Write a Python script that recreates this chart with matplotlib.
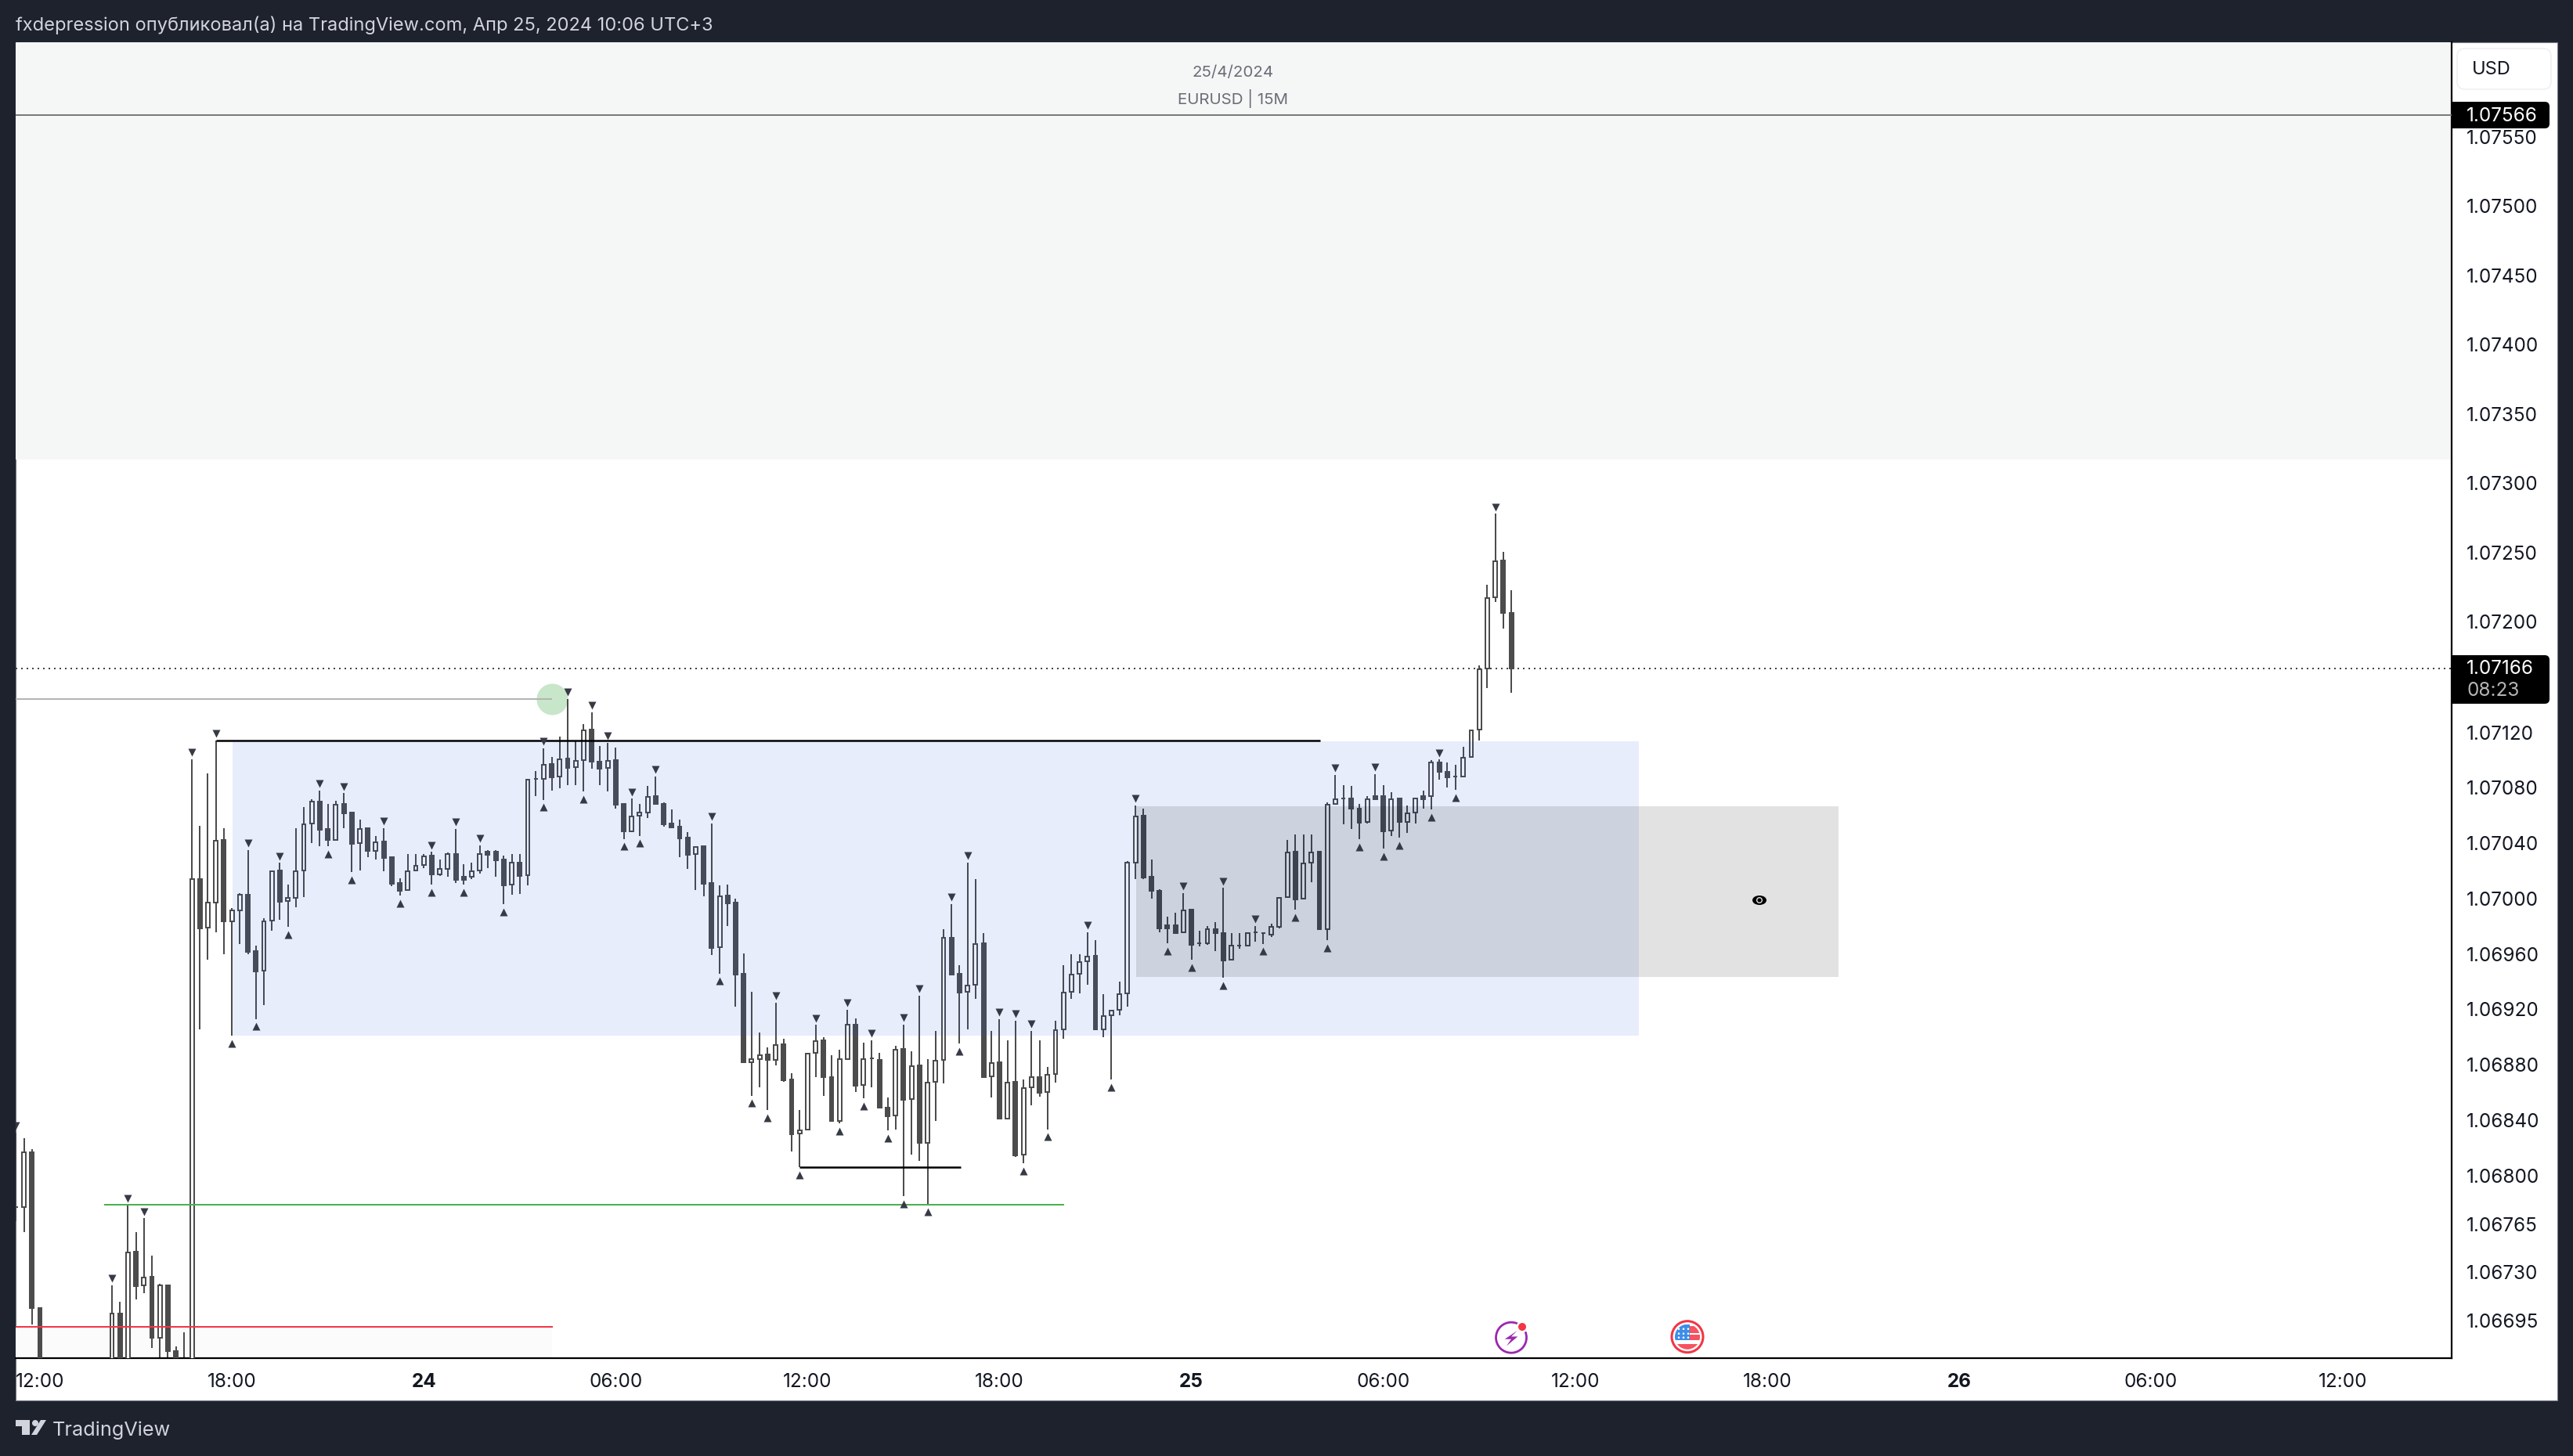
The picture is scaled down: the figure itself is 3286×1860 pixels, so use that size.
import matplotlib
matplotlib.use("Agg")
import numpy as np
from matplotlib import pyplot as plt
from matplotlib import transforms
from matplotlib.patches import Rectangle, Circle, Ellipse, Polygon, FancyBboxPatch

plt.rcParams['font.family'] = ['Inter', 'DejaVu Sans']

na = float('nan')

# EURUSD 15M, one entry per bar, bar 0 is 23 Apr 11:15. Hidden bars are below the pane.
opens = [1.06777, 1.06777, 1.06817, 1.06704, na, na, na, na, na, na, na, na,
    1.0664, 1.067006, 1.0662, 1.067447, 1.067204, 1.067267, 1.066826, 1.067204, 1.066733, 1.0664, 1.0664,
    1.070139, 1.069788, 1.069969, 1.070421, 1.069837, 1.069916, 1.070026, 1.069619, 1.069477, 1.069839,
    1.070201, 1.06998, 1.070007, 1.070201, 1.07054, 1.070698, 1.0705, 1.070425, 1.070681, 1.070619,
    1.070399, 1.070506, 1.070346, 1.07041, 1.070299, 1.07011, 1.07006, 1.070201, 1.07024, 1.070308,
    1.070176, 1.070216, 1.070321, 1.070156, 1.070156, 1.070201, 1.070336, 1.070336, 1.07028, 1.070099,
    1.070257, 1.070167, 1.070864, 1.070864, 1.07097, 1.070879, 1.071009, 1.070947, 1.071, 1.071218,
    1.07099, 1.070941, 1.070998, 1.070683, 1.070487, 1.070597, 1.070619, 1.07074, 1.070681, 1.070541,
    1.070517, 1.070439, 1.07032, 1.070378, 1.07011, 1.069647, 1.070022, 1.06997, 1.069455, 1.068817,
    1.068843, 1.068873, 1.068832, 1.068947, 1.068691, 1.068302, 1.06833, 1.068884, 1.068975, 1.068713,
    1.068393, 1.068843, 1.069091, 1.068652, 1.068847, 1.068832, 1.068492, 1.068432, 1.068912, 1.068551,
    1.068793, 1.068233, 1.068676, 1.068834, 1.069714, 1.069455, 1.069325, 1.069377, 1.069675, 1.068715,
    1.068815, 1.068412, 1.068674, 1.068148, 1.068635, 1.068713, 1.068603, 1.068732, 1.069053, 1.069325,
    1.069455, 1.069546, 1.069585, 1.069055, 1.069156, 1.069195, 1.069314, 1.070259, 1.070597, 1.070156,
    1.070058, 1.069805, 1.069805, 1.069755, 1.069918, 1.069675, 1.069675, 1.069777, 1.069753, 1.069556,
    1.069658, 1.069658, 1.069757, 1.06975, 1.06974, 1.069796, 1.07001, 1.070336, 1.069997, 1.070257,
    1.070336, 1.069779, 1.070684, 1.070723, 1.070721, 1.070647, 1.070552, 1.070738, 1.070738, 1.07049,
    1.070721, 1.070554, 1.07062, 1.070738, 1.070738, 1.070981, 1.070917, 1.070883, 1.07088, 1.071022,
    1.071221, 1.071662, 1.072177, 1.07244, 1.07206]
highs = [1.06831, 1.06827, 1.06819, 1.06704, na, na, na, na, na, na, na, na,
    1.067208, 1.067086, 1.067783, 1.06759, 1.06769, 1.06742, 1.067218, 1.067204, 1.066765, 1.066867, 1.071005,
    1.070525, 1.070902, 1.071141, 1.070506, 1.069931, 1.070041, 1.07035, 1.069658, 1.069856, 1.070201,
    1.070257, 1.070101, 1.070506, 1.070661, 1.070719, 1.070779, 1.070681, 1.070704, 1.07076, 1.070619,
    1.070568, 1.070506, 1.07045, 1.070508, 1.070299, 1.070148, 1.070321, 1.070321, 1.070321, 1.070336,
    1.07028, 1.070331, 1.070502, 1.070248, 1.070259, 1.070384, 1.07035, 1.07035, 1.070308, 1.070321,
    1.070321, 1.07086, 1.070921, 1.071084, 1.07102, 1.071169, 1.071439, 1.071137, 1.071258, 1.071344,
    1.0711, 1.071124, 1.07109, 1.070685, 1.07072, 1.070681, 1.070811, 1.07088, 1.070696, 1.070642,
    1.070569, 1.07048, 1.070378, 1.070378, 1.070541, 1.070097, 1.070099, 1.07, 1.069606, 1.069325,
    1.069035, 1.068923, 1.069247, 1.068988, 1.068741, 1.068471, 1.068882, 1.069087, 1.068998, 1.068869,
    1.068908, 1.069195, 1.069135, 1.068957, 1.068977, 1.068884, 1.068561, 1.068934, 1.069091, 1.068897,
    1.069299, 1.068843, 1.069044, 1.069779, 1.069961, 1.069518, 1.070259, 1.07014, 1.069751, 1.069042,
    1.069128, 1.068975, 1.069117, 1.068694, 1.069044, 1.068977, 1.068784, 1.069117, 1.069518, 1.069598,
    1.069598, 1.069755, 1.069697, 1.069308, 1.069195, 1.069399, 1.07027, 1.07067, 1.070649, 1.070281,
    1.070065, 1.06987, 1.069898, 1.070037, 1.069918, 1.069766, 1.069799, 1.069827, 1.070076, 1.069751,
    1.069751, 1.069758, 1.069801, 1.069752, 1.069816, 1.070005, 1.070422, 1.070463, 1.070463, 1.070463,
    1.070336, 1.070696, 1.070892, 1.070816, 1.070814, 1.070684, 1.070738, 1.0709, 1.070816, 1.07077,
    1.070721, 1.070672, 1.070728, 1.070777, 1.070998, 1.071003, 1.070981, 1.070968, 1.071098, 1.071219,
    1.071682, 1.072268, 1.072778, 1.072501, 1.072229]
lows = [1.06767, 1.06759, 1.066926, 1.0663, na, na, na, na, na, na, na, na,
    1.0663, 1.0661, 1.0661, 1.067104, 1.067152, 1.066756, 1.0666, 1.0665, 1.0663, 1.0663, 1.0663,
    1.069055, 1.06956, 1.069758, 1.069598, 1.069008, 1.069673, 1.069598, 1.069131, 1.069231, 1.069768,
    1.069847, 1.069796, 1.069939, 1.070012, 1.070402, 1.07038, 1.070378, 1.070418, 1.07051, 1.070191,
    1.070205, 1.070299, 1.070284, 1.070199, 1.070092, 1.070022, 1.070054, 1.070199, 1.070222, 1.070101,
    1.070161, 1.070158, 1.07011, 1.070101, 1.070142, 1.07018, 1.070222, 1.070158, 1.06996, 1.070029,
    1.070035, 1.070097, 1.07074, 1.070714, 1.070779, 1.070798, 1.070821, 1.070821, 1.070775, 1.070939,
    1.070821, 1.070775, 1.070647, 1.070431, 1.07048, 1.070454, 1.070584, 1.070677, 1.070519, 1.070513,
    1.070298, 1.070216, 1.07006, 1.070017, 1.069593, 1.069459, 1.069801, 1.069221, 1.068812, 1.068577,
    1.068637, 1.068475, 1.068795, 1.068676, 1.068176, 1.06806, 1.068328, 1.068713, 1.068577, 1.068389,
    1.068374, 1.068836, 1.068605, 1.068555, 1.068637, 1.06849, 1.068328, 1.068334, 1.067852, 1.06815,
    1.068107, 1.067792, 1.068395, 1.068667, 1.069448, 1.068951, 1.069055, 1.069275, 1.068711, 1.068566,
    1.068406, 1.068406, 1.068135, 1.06809, 1.068507, 1.068568, 1.068334, 1.06867, 1.06899, 1.069275,
    1.069314, 1.069379, 1.06905, 1.069001, 1.068691, 1.069156, 1.069221, 1.07014, 1.07014, 1.07,
    1.069758, 1.069675, 1.069751, 1.069751, 1.069556, 1.069654, 1.069665, 1.069621, 1.069429, 1.069552,
    1.069637, 1.069654, 1.069691, 1.069674, 1.069723, 1.069782, 1.070005, 1.069919, 1.069993, 1.070115,
    1.069772, 1.069698, 1.070679, 1.070537, 1.070503, 1.070427, 1.070544, 1.070713, 1.07036, 1.070451,
    1.070439, 1.070476, 1.070539, 1.07065, 1.070642, 1.070856, 1.070802, 1.070782, 1.070875, 1.07102,
    1.07114, 1.07152, 1.072143, 1.071947, 1.071483]
closes = [1.06777, 1.06817, 1.067044, 1.0664, na, na, na, na, na, na, na, na,
    1.067005, 1.0662, 1.067444, 1.067202, 1.067265, 1.066826, 1.067204, 1.066733, 1.0664, 1.0666, 1.070139,
    1.069786, 1.069969, 1.070419, 1.069837, 1.069916, 1.070026, 1.069617, 1.069475, 1.069837, 1.070199,
    1.069979, 1.070003, 1.070199, 1.070538, 1.070698, 1.070497, 1.070425, 1.070679, 1.070617, 1.070397,
    1.070504, 1.070346, 1.070408, 1.070295, 1.070107, 1.070058, 1.070199, 1.070239, 1.070306, 1.070174,
    1.070216, 1.07032, 1.070135, 1.070135, 1.070199, 1.07032, 1.070318, 1.070278, 1.070097, 1.070257,
    1.070165, 1.07086, 1.070864, 1.070968, 1.070877, 1.071007, 1.070945, 1.070996, 1.071216, 1.07099,
    1.070939, 1.070996, 1.070679, 1.070487, 1.070595, 1.070619, 1.070735, 1.070681, 1.070538, 1.070515,
    1.070437, 1.070318, 1.070374, 1.070108, 1.069645, 1.070017, 1.069965, 1.069453, 1.068815, 1.068841,
    1.068869, 1.068832, 1.068944, 1.068689, 1.0683, 1.068326, 1.068882, 1.068972, 1.068713, 1.068391,
    1.068843, 1.069091, 1.06865, 1.068843, 1.068847, 1.068492, 1.06843, 1.06891, 1.068549, 1.068791,
    1.068233, 1.068672, 1.06883, 1.069714, 1.069453, 1.069323, 1.069373, 1.069673, 1.068713, 1.068812,
    1.06841, 1.068672, 1.068146, 1.068633, 1.068711, 1.0686, 1.068728, 1.06905, 1.069323, 1.069453,
    1.069544, 1.069582, 1.069053, 1.069152, 1.069191, 1.06931, 1.070257, 1.070595, 1.070151, 1.070058,
    1.069786, 1.069786, 1.069753, 1.069916, 1.069667, 1.069675, 1.069777, 1.069753, 1.069554, 1.069658,
    1.069658, 1.069751, 1.069757, 1.06975, 1.069796, 1.070005, 1.070333, 1.069995, 1.070255, 1.070333,
    1.069777, 1.070679, 1.070716, 1.070723, 1.070647, 1.070549, 1.070718, 1.070718, 1.070488, 1.070718,
    1.070554, 1.070618, 1.070721, 1.070718, 1.070981, 1.070917, 1.070878, 1.070883, 1.071017, 1.071216,
    1.071657, 1.07217, 1.072437, 1.07206, 1.071662]

swing_high_bars = [0, 12, 14, 16, 22, 25, 29, 33, 38, 41, 46, 52, 55, 58, 66, 69, 72, 74, 77, 80, 87, 95,
    100, 104, 107, 111, 113, 117, 119, 123, 125, 127, 134, 140, 146, 151, 155, 165, 170, 178, 185]
swing_low_bars = [27, 30, 34, 39, 42, 48, 52, 56, 61, 66, 71, 76, 78, 88, 92, 94, 98, 103, 106, 109, 111,
    114, 118, 126, 129, 137, 144, 147, 151, 156, 160, 164, 168, 171, 173, 177, 180]

price_ticks = [1.0755, 1.075, 1.0745, 1.074, 1.0735, 1.073, 1.0725, 1.072, 1.0712, 1.0708, 1.0704, 1.07,
    1.0696, 1.0692, 1.0688, 1.0684, 1.068, 1.06765, 1.0673, 1.06695]
price_labels = ["1.07550", "1.07500", "1.07450", "1.07400", "1.07350", "1.07300", "1.07250", "1.07200",
    "1.07120", "1.07080", "1.07040", "1.07000", "1.06960", "1.06920", "1.06880", "1.06840", "1.06800",
    "1.06765", "1.06730", "1.06695"]
time_ticks = [3, 27, 51, 75, 99, 123, 147, 171, 195, 219, 243, 267, 291]
time_labels = ["12:00", "18:00", "24", "06:00", "12:00", "18:00", "25", "06:00", "12:00", "18:00", "26", "06:00", "12:00"]
day_labels = ["24", "25", "26"]

last_price = 1.07166
top_price = 1.07566

W, H = 3286, 1860
DARK = "#1e222d"
CANDLE = "#4c4c4c"

fig = plt.figure(figsize=(W / 100, H / 100), dpi=100, facecolor=DARK)
tp = transforms.Affine2D().scale(1, -1).translate(0, H)

fig.add_artist(Rectangle((20, 54), 3246, 1735, transform=tp, fc="white", ec="#787b86", lw=0.8, zorder=-5))

ax = fig.add_axes([20 / W, 1 - 1735 / H, 3111 / W, 1681 / H])
ax.patch.set_alpha(0)
ax.set_xlim(-0.04, 304.6)
ax.set_ylim(1.066681, 1.076183)

# zones, these sit over the candles
ax.axhspan(1.07317, 1.076183, color="#f5f7f6", lw=0, zorder=0)
ax.add_patch(Rectangle((-0.04, 1.066681), 67.1, 0.000225, fc="#fbfbfb", lw=0, zorder=0))

x = np.arange(len(opens))
o, h, l, c = np.array(opens), np.array(highs), np.array(lows), np.array(closes)
ax.vlines(x, l, h, color=CANDLE, lw=1.44, zorder=2)
up = c >= o
down = c < o
ax.bar(x[up], (c - o)[up], bottom=o[up], width=0.48, fc="white", ec=CANDLE, lw=1.44, zorder=3)
ax.bar(x[down], (c - o)[down], bottom=o[down], width=0.48, fc=CANDLE, ec=CANDLE, lw=1.44, zorder=3)

ax.add_patch(Rectangle((27.08, 1.06901), 175.87, 0.002125, fc="#2450e8", alpha=0.1, lw=0, zorder=4))
ax.add_patch(Rectangle((140.08, 1.069434), 87.82, 0.001232, fc="black", alpha=0.113, lw=0, zorder=4.1))

ax.plot(x[swing_high_bars], h[swing_high_bars] + 0.00005, ls="none", marker="v", ms=7.5, mfc="#363a45", mec="none", zorder=6)
ax.plot(x[swing_low_bars], l[swing_low_bars] - 0.000056, ls="none", marker="^", ms=7.5, mfc="#363a45", mec="none", zorder=6)

ax.axhline(top_price, color="#787b7b", lw=1.44, zorder=5)
ax.axhline(last_price, color="#444444", lw=1.44, ls=(0, (1, 2.5)), zorder=1.5)
ax.plot([25, 163.07], [1.07114, 1.07114], color="black", lw=1.8, solid_capstyle="butt", zorder=5)
ax.plot([98, 118.15], [1.06806, 1.06806], color="black", lw=1.8, solid_capstyle="butt", zorder=5)
ax.plot([10.99, 131.07], [1.06779, 1.06779], color="#4caf50", lw=1.44, solid_capstyle="butt", zorder=5)
ax.plot([-0.04, 67.09], [1.066906, 1.066906], color="#f23645", lw=1.44, solid_capstyle="butt", zorder=5)
ax.scatter([67], [1.07144], s=830, color="#c8e6c9", lw=0, zorder=1)
ax.plot([-0.04, 67], [1.07144, 1.07144], color="#b2b5b3", lw=1.44, solid_capstyle="butt", zorder=5)

ax.yaxis.tick_right()
ax.set_yticks(price_ticks)
ax.set_yticklabels(price_labels)
ax.set_xticks(time_ticks)
ax.set_xticklabels(time_labels)
ax.tick_params(axis="y", length=0, pad=13.5, labelsize=17.5, labelcolor="#131722")
ax.tick_params(axis="x", length=0, pad=13.5, labelsize=17.5, labelcolor="#131722")
for t in ax.get_xticklabels():
    if t.get_text() in day_labels:
        t.set_fontweight("bold")
for s in ["top", "left"]:
    ax.spines[s].set_visible(False)
for s in ["bottom", "right"]:
    ax.spines[s].set_color("black")
    ax.spines[s].set_linewidth(1.6)

# text around the chart
fig.text(20, 32, "fxdepression опубликовал(а) на TradingView.com, Апр 25, 2024 10:06 UTC+3", transform=tp,
    color="#d1d4dc", fontsize=17, va="center", ha="left")
fig.text(1575, 93, "25/4/2024", transform=tp, color="#6a6d78", fontsize=14.8, va="center", ha="center", zorder=10)
fig.text(1575, 126, "EURUSD | 15M", transform=tp, color="#6a6d78", fontsize=14.8, va="center", ha="center", zorder=10)
fig.text(67, 1827, "TradingView", transform=tp, color="#d1d4dc", fontsize=18.2, va="center", ha="left")

fig.add_artist(FancyBboxPatch((3146, 70), 104, 36, boxstyle="round,pad=8,rounding_size=10", transform=tp,
    fc="white", ec="#f0f0f5", lw=1.2, zorder=8))
fig.text(3157, 89, "USD", transform=tp, color="#131722", fontsize=17, va="center", ha="left", zorder=9)


def price_tag(y0, y1):
    fig.add_artist(FancyBboxPatch((3210, y0 + 6), 40, y1 - y0 - 12, boxstyle="round,pad=6,rounding_size=6",
        transform=tp, fc="black", ec="none", zorder=8))
    fig.add_artist(Rectangle((3131, y0), 90, y1 - y0, transform=tp, fc="black", ec="none", zorder=8))


price_tag(130, 164)
fig.text(3150, 148, "1.07566", transform=tp, color="white", fontsize=17.5, va="center", ha="left", zorder=9)
price_tag(837, 899)
fig.text(3150, 854.5, "1.07166", transform=tp, color="white", fontsize=17.5, va="center", ha="left", zorder=9)
fig.text(3150, 882, "08:23", transform=tp, color="#b5b5b5", fontsize=17.5, va="center", ha="left", zorder=9)

# eye
fig.add_artist(Ellipse((2247, 1150), 18, 12, transform=tp, fc="black", ec="none", zorder=9))
fig.add_artist(Circle((2247, 1150), 4, transform=tp, fc="#e2e2e3", ec="none", zorder=9))
fig.add_artist(Circle((2247, 1150), 2.6, transform=tp, fc="black", ec="none", zorder=9))

# lightning event icon
lx, ly = 1930, 1708.7
fig.add_artist(Circle((lx, ly), 19.5, transform=tp, fc="white", ec="#9c27b0", lw=2, zorder=9))
fig.add_artist(Polygon([(lx + 7.7, ly - 8.7), (lx - 8.3, ly + 2), (lx, ly + 2), (lx - 6, ly + 10.7), (lx + 8.3, ly - 1.3), (lx, ly - 1.3)],
    transform=tp, fc="#9c27b0", ec="none", zorder=9))
fig.add_artist(Circle((lx + 14, ly - 13.7), 7.5, transform=tp, fc="white", ec="none", zorder=9))
fig.add_artist(Circle((lx + 14, ly - 13.7), 5, transform=tp, fc="#f23645", ec="none", zorder=9))

# us flag event icon
fx, fy = 2155, 1707.7
fig.add_artist(Circle((fx, fy), 20, transform=tp, fc="white", ec="#f23645", lw=2.2, zorder=9))
clip = Circle((fx, fy), 16, transform=tp)
for bx, by, bw, bh, col in [(3, -14, 13, 9, "#f7525f"), (3, -3, 13, 7, "#f7525f"), (-16, 9, 32, 7, "#f7525f"), (-16, -16, 19, 20, "#3d8ee8")]:
    r = Rectangle((fx + bx, fy + by), bw, bh, transform=tp, fc=col, ec="none", zorder=9.1)
    fig.add_artist(r)
    r.set_clip_path(clip)
for sx in [-11, -5, 1]:
    for sy in [-10, -4, 1]:
        fig.add_artist(Circle((fx + sx, fy + sy), 1.3, transform=tp, fc="white", ec="none", zorder=9.2))

# tradingview logo
LOGO = "#d1d4dc"
fig.add_artist(Polygon([(20, 1814), (38, 1814), (38, 1833), (28, 1833), (28, 1822), (20, 1822)], transform=tp, fc=LOGO, ec="none"))
fig.add_artist(Circle((45, 1818), 4, transform=tp, fc=LOGO, ec="none"))
fig.add_artist(Polygon([(52, 1814), (59, 1814), (47, 1833), (40, 1833)], transform=tp, fc=LOGO, ec="none"))

fig.savefig("out.png", dpi=100, facecolor=DARK)
